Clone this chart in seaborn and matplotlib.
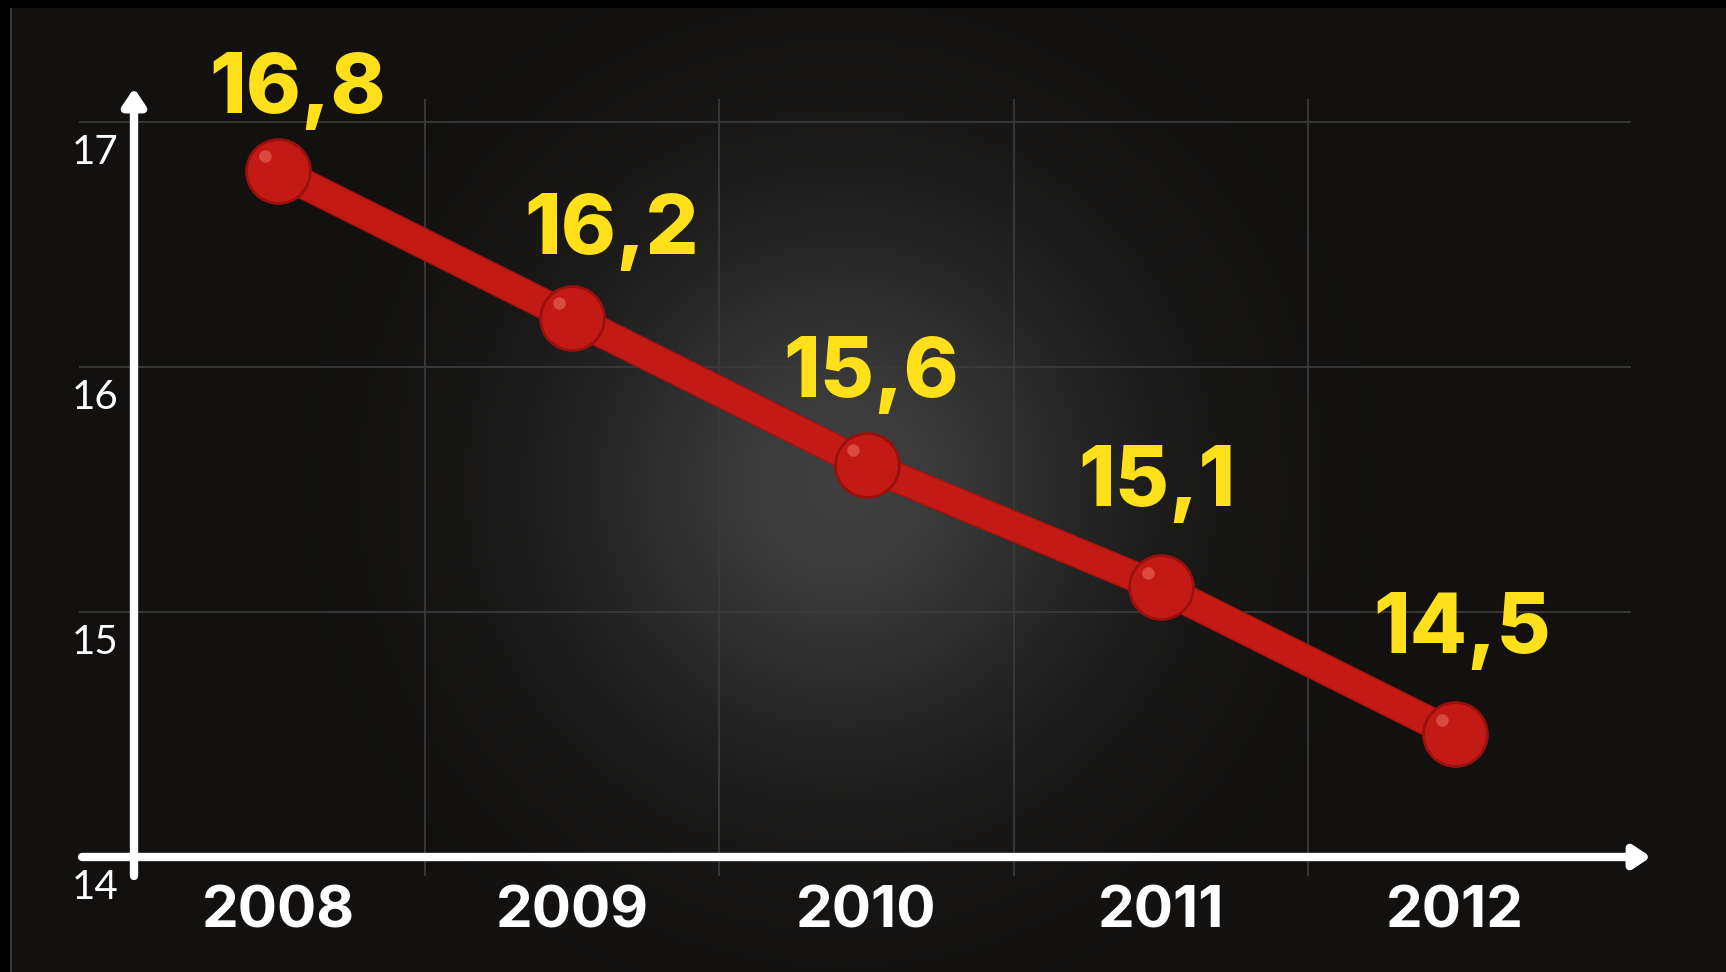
import numpy as np
import pandas as pd
import seaborn as sns
import matplotlib.pyplot as plt
import matplotlib.patheffects as pe

# data
years = ["2008", "2009", "2010", "2011", "2012"]
values = [16.8, 16.2, 15.6, 15.1, 14.5]
value_labels = ["16,8", "16,2", "15,6", "15,1", "14,5"]
y_ticks = [14, 15, 16, 17]

# label offsets (pixels) from each point
label_dx = [20, 39, 5, -4, 7]
label_dy = [58, 64, 68, 81, 81]

W, H, DPI = 1726, 972, 100
BG = np.array([18, 17, 16]) / 255
RED = "#c41a16"
YELLOW = "#ffe01a"

sns.set_style("dark")
plt.rcParams["font.family"] = ["Inter", "DejaVu Sans"]

fig = plt.figure(figsize=(W / DPI, H / DPI), dpi=DPI)
fig.patch.set_facecolor(BG)

# background with soft glow in the middle
bg = fig.add_axes([0, 0, 1, 1])
yy, xx = np.mgrid[0:H, 0:W]
r = np.hypot(xx - 840, yy - 485)
glow = np.exp(-(r / 270.0) ** 2)
img = BG[None, None, :] + (0.25 - BG[None, None, :]) * glow[:, :, None]
img[:, :10] = 0.0
img[:9, :] = 0.0
img[9:, 10:12] = 0.22
bg.imshow(img, extent=(0, W, H, 0), aspect="auto", interpolation="bilinear")
bg.set_axis_off()

ax = fig.add_axes([0, 0, 1, 1])
ax.patch.set_alpha(0)

# pixel -> data mapping: x index i at 278 + 294.3 i, value v at 857 - 245 (v - 14)
px_x = lambda p: (p - 278) / 294.3
px_y = lambda p: 14 + (857 - p) / 245.0

# grid
ax.hlines([15, 16, 17], px_x(79), px_x(1631), color="#3a3a3a", lw=1.3, zorder=1)
ax.vlines(np.arange(len(years) - 1) + 0.5, px_y(876), px_y(99), color="#3a3a3a", lw=1.3, zorder=1)

# axis arrows
arrow = dict(arrowstyle="-|>,head_length=0.45,head_width=0.3", color="white", lw=6, mutation_scale=22,
             shrinkA=0, shrinkB=0)
ax.annotate("", xy=(px_x(134), px_y(88)), xytext=(px_x(134), px_y(876)), arrowprops=arrow, zorder=3)
ax.annotate("", xy=(px_x(1651), 14), xytext=(px_x(82), 14), arrowprops=arrow, zorder=3)

df = pd.DataFrame({"x": np.arange(len(years)), "value": values})
sns.lineplot(data=df, x="x", y="value", ax=ax, color=RED, lw=20, solid_capstyle="round", zorder=5,
             path_effects=[pe.Stroke(linewidth=22, foreground="#a8120f"), pe.Normal()])
sns.scatterplot(data=df, x="x", y="value", ax=ax, color=RED, s=46 ** 2, edgecolor="#9a100d",
                linewidth=2, zorder=6)
sns.scatterplot(x=df["x"] - 0.045, y=df["value"] + 0.06, ax=ax, color="#f07a6a", s=9 ** 2,
                alpha=0.5, linewidth=0, zorder=7)
ax.set_xlim(px_x(0), px_x(W))
ax.set_ylim(px_y(H), px_y(0))
ax.set_axis_off()

# value labels
for i, (v, lab) in enumerate(zip(values, value_labels)):
    ax.annotate(lab, xy=(i, v), xytext=(label_dx[i], label_dy[i]), textcoords="offset pixels",
                ha="center", va="baseline", color=YELLOW, fontsize=60, fontweight="heavy", zorder=8)

# year labels
for i, y in enumerate(years):
    ax.text(i, px_y(928), y, ha="center", va="baseline", color="white", fontsize=42, fontweight="bold")

# y tick labels
for t in y_ticks:
    ax.text(px_x(95), t - 0.125, str(t), ha="center", va="center", color="white", fontsize=29,
            fontweight="normal", family=["Lato", "DejaVu Sans"])

fig.savefig("out.png", dpi=DPI, facecolor=fig.get_facecolor())
